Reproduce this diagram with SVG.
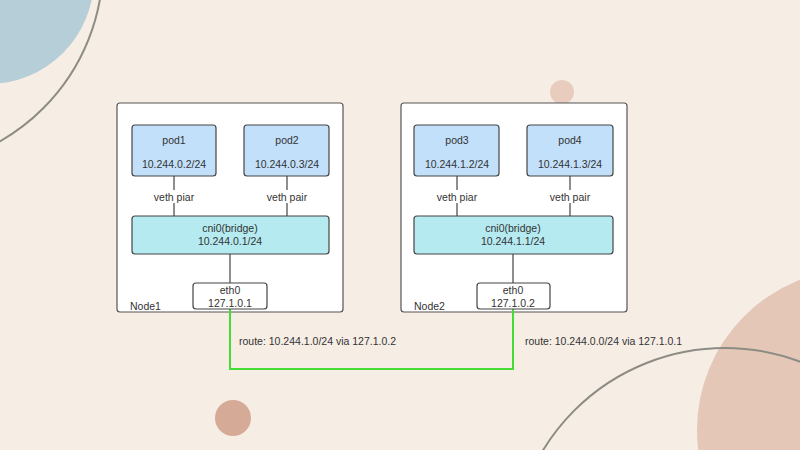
<svg xmlns="http://www.w3.org/2000/svg" width="800" height="450" viewBox="0 0 800 450">
  <defs>
    <style>
      .bg { fill: #f6ede5; }
      .ring { fill: none; stroke: #8c8c84; stroke-width: 2; }
      .node { fill: #ffffff; stroke: #555555; stroke-width: 1.2; }
      .pod { fill: #c2e0fa; stroke: #444444; stroke-width: 1.2; }
      .bridge { fill: #b4eaf0; stroke: #444444; stroke-width: 1.2; }
      .eth { fill: #ffffff; stroke: #444444; stroke-width: 1.2; }
      .link { stroke: #444444; stroke-width: 1.2; fill: none; }
      .route { stroke: #45dd35; stroke-width: 2; fill: none; }
      text { font-family: "Liberation Sans", "Noto Sans", sans-serif; font-size: 10.5px; fill: #333333; }
      .c { text-anchor: middle; }
    </style>
  </defs>

  <!-- backdrop -->
  <rect class="bg" x="0" y="0" width="800" height="450"/>
  <circle cx="-12" cy="-22" r="106" fill="#b5ced7"/>
  <circle cx="-101" cy="-36" r="204" class="ring"/>
  <circle cx="562" cy="92" r="12" fill="#e8cdbf"/>
  <circle cx="233" cy="418" r="18" fill="#d5ab97"/>
  <circle cx="858" cy="430" r="161" fill="#e5c7b7"/>
  <circle cx="725" cy="561" r="213" class="ring"/>

  <!-- host boxes -->
  <g id="node1">
    <rect class="node" x="117" y="103" width="226" height="209" rx="3"/>
    <text x="130" y="310">Node1</text>
  </g>
  <g id="node2">
    <rect class="node" x="401" y="103" width="226" height="209" rx="3"/>
    <text x="414" y="310">Node2</text>
  </g>

  <!-- connectors -->
  <g id="connectors">
    <path class="link" d="M174 176V190M174 203V216"/>
    <path class="link" d="M287 176V190M287 203V216"/>
    <path class="link" d="M230 254V283"/>
    <path class="link" d="M457 176V190M457 203V216"/>
    <path class="link" d="M570 176V190M570 203V216"/>
    <path class="link" d="M513 254V283"/>
    <path class="route" d="M230 309V369H513V309"/>
    <text x="174" y="200.5" class="c">veth piar</text>
    <text x="287" y="200.5" class="c">veth pair</text>
    <text x="457" y="200.5" class="c">veth piar</text>
    <text x="570" y="200.5" class="c">veth pair</text>
    <text x="239" y="345">route: 10.244.1.0/24 via 127.1.0.2</text>
    <text x="525" y="345">route: 10.244.0.0/24 via 127.1.0.1</text>
  </g>

  <!-- Node1 contents -->
  <g id="pod1">
    <rect class="pod" x="132" y="125" width="84" height="51" rx="3"/>
    <text x="174" y="143.5" class="c">pod1</text>
    <text x="174" y="167.5" class="c">10.244.0.2/24</text>
  </g>
  <g id="pod2">
    <rect class="pod" x="244" y="125" width="85" height="51" rx="3"/>
    <text x="287" y="143.5" class="c">pod2</text>
    <text x="287" y="167.5" class="c">10.244.0.3/24</text>
  </g>
  <g id="bridge1">
    <rect class="bridge" x="132" y="216" width="197" height="38" rx="3"/>
    <text x="230" y="232" class="c">cni0(bridge)</text>
    <text x="230" y="244.5" class="c">10.244.0.1/24</text>
  </g>
  <g id="eth0-node1">
    <rect class="eth" x="193" y="283" width="74" height="26" rx="3"/>
    <text x="230" y="294" class="c">eth0</text>
    <text x="230" y="306.5" class="c">127.1.0.1</text>
  </g>

  <!-- Node2 contents -->
  <g id="pod3">
    <rect class="pod" x="414" y="125" width="85" height="51" rx="3"/>
    <text x="457" y="143.5" class="c">pod3</text>
    <text x="457" y="167.5" class="c">10.244.1.2/24</text>
  </g>
  <g id="pod4">
    <rect class="pod" x="527" y="125" width="86" height="51" rx="3"/>
    <text x="570" y="143.5" class="c">pod4</text>
    <text x="570" y="167.5" class="c">10.244.1.3/24</text>
  </g>
  <g id="bridge2">
    <rect class="bridge" x="414" y="216" width="199" height="38" rx="3"/>
    <text x="513" y="232" class="c">cni0(bridge)</text>
    <text x="513" y="244.5" class="c">10.244.1.1/24</text>
  </g>
  <g id="eth0-node2">
    <rect class="eth" x="477" y="283" width="73" height="26" rx="3"/>
    <text x="513" y="294" class="c">eth0</text>
    <text x="513" y="306.5" class="c">127.1.0.2</text>
  </g>
</svg>
